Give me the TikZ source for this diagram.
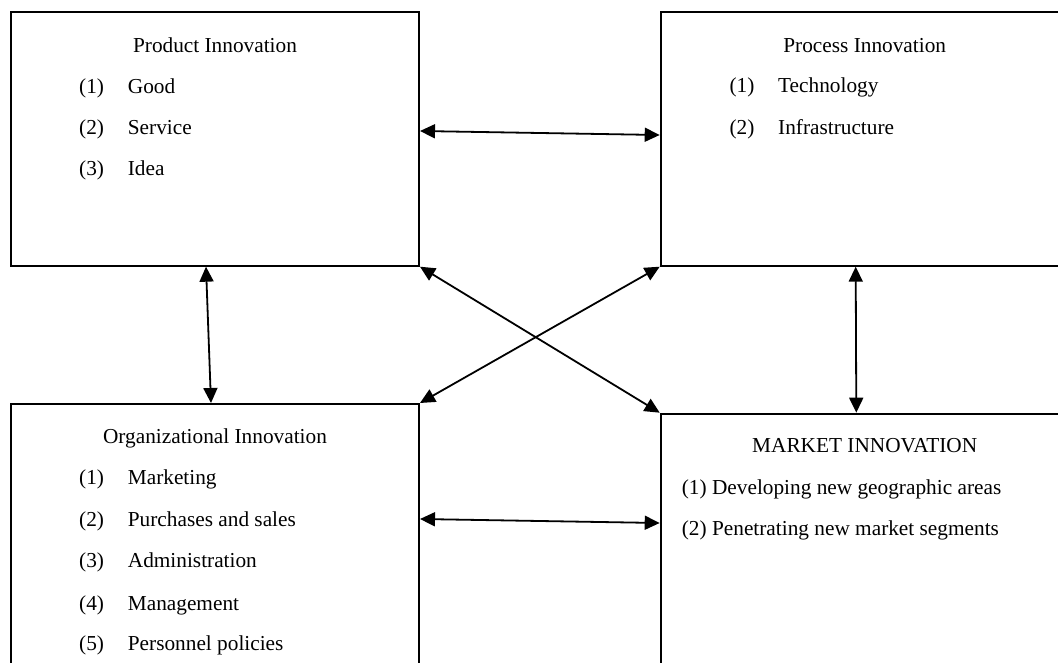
\documentclass[tikz,border=0pt]{standalone}
\usepackage{fontspec}
\setmainfont{Liberation Serif}
\usetikzlibrary{arrows.meta}
\newcommand{\itm}[2]{\makebox[48.7pt][l]{#1}#2}
\begin{document}
\begin{tikzpicture}[x=1pt,y=-1pt,
  box/.style={draw, line width=2pt, rectangle, inner sep=0pt, minimum width=408.3pt},
  txt/.style={inner sep=0pt, font=\fontsize{21.3pt}{26pt}\selectfont},
  lbl/.style={txt, anchor=base west},
  ttl/.style={txt, anchor=base},
  link/.style={line width=1.8pt, {Triangle[length=15pt,width=14pt]}-{Triangle[length=15pt,width=14pt]}}]
\useasboundingbox (0,0) rectangle (1058,663);
\clip (0,0) rectangle (1058,663);
% boxes
\node[box, minimum height=253.4pt] (prod) at (214.85,139) {};
\node[box, minimum height=253.4pt] (proc) at (864.85,139) {};
\node[box, minimum height=300pt] (org) at (214.85,554) {};
\node[box, minimum height=300pt] (mkt) at (864.85,563.7) {};
% product
\node[ttl] (prodT) at (215,52.3) {Product Innovation};
\node[lbl] (prod1) at (79,93.3) {\itm{(1)}{Good}};
\node[lbl] (prod2) at (79,135) {\itm{(2)}{Service}};
\node[lbl] (prod3) at (79,176) {\itm{(3)}{Idea}};
% process
\node[ttl] (procT) at (864.7,52.3) {Process Innovation};
\node[lbl] (proc1) at (729.3,92.7) {\itm{(1)}{Technology}};
\node[lbl] (proc2) at (729.3,135) {\itm{(2)}{Infrastructure}};
% organizational
\node[ttl] (orgT) at (215,443.3) {Organizational Innovation};
\node[lbl] (org1) at (79,484) {\itm{(1)}{Marketing}};
\node[lbl] (org2) at (79,526.7) {\itm{(2)}{Purchases and sales}};
\node[lbl] (org3) at (79,567.7) {\itm{(3)}{Administration}};
\node[lbl] (org4) at (79,610) {\itm{(4)}{Management}};
\node[lbl] (org5) at (79,650.7) {\itm{(5)}{Personnel policies}};
% market
\node[ttl] (mktT) at (864.7,452.7) {MARKET INNOVATION};
\node[lbl] (mkt1) at (681.7,494.3) {(1) Developing new geographic areas};
\node[lbl] (mkt2) at (681.7,535.7) {(2) Penetrating new market segments};
% connectors
\draw[link] ([yshift=8pt]prod.east) -- ([yshift=4pt]proc.west);
\draw[link] ([yshift=-116pt]org.north east) -- ([yshift=-110.3pt]mkt.north west);
\draw[link] ([xshift=196.3pt]prod.south west) -- ([xshift=201.3pt]org.north west);
\draw[link] ([xshift=196pt]proc.south west) -- ([xshift=196.6pt]mkt.north west);
\draw[link] (prod.south east) -- (mkt.north west);
\draw[link] (proc.south west) -- (org.north east);
\end{tikzpicture}
\end{document}
